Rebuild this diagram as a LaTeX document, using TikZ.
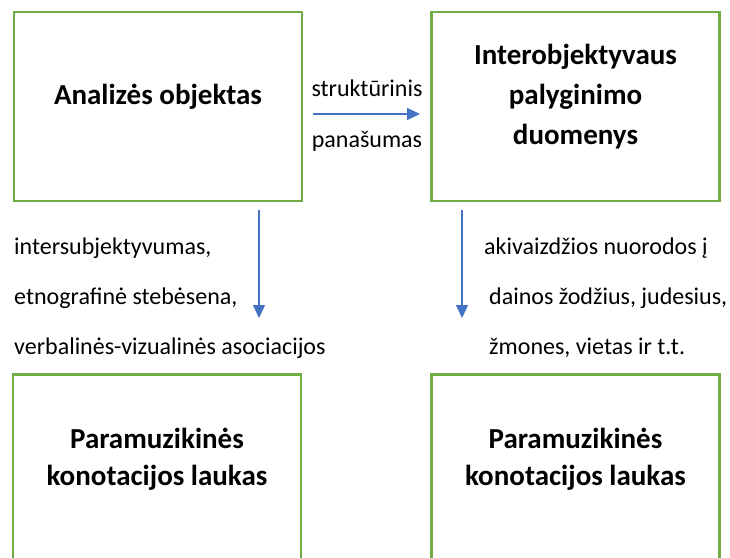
\documentclass[tikz,border=0pt]{standalone}
\usepackage{fontspec}
\setmainfont{Carlito}
\usetikzlibrary{arrows.meta}
\definecolor{boxgreen}{HTML}{70AD47}
\definecolor{arrowblue}{HTML}{4472C4}
\tikzset{greenbox/.style={draw=boxgreen, line width=2.5pt, minimum width=288pt, inner sep=0pt},
         flow/.style={draw=arrowblue, line width=1.2pt, -{Triangle[length=13pt,width=12pt]}},
         title/.style={font=\fontsize{29}{40}\selectfont\bfseries, align=center},
         note/.style={font=\fontsize{24}{28}\selectfont, inner sep=0pt}}

\begin{document}
\begin{tikzpicture}[x=1pt,y=-1pt]
\useasboundingbox (0,0) rectangle (730,557);
\clip (0,0) rectangle (730,557);

% Top row
\node[greenbox, minimum height=189pt] (objektas) at (158,106.5) {};
\node[greenbox, minimum height=189pt] (duomenys) at (575.5,106.5) {};
\node[title] (objektasT) at (158,97) {Analizės objektas};
\node[title] (duomenysT) at (575.5,97) {Interobjektyvaus\\palyginimo\\duomenys};

% Bottom row (cut by the page edge)
\node[greenbox, minimum height=200pt, anchor=north] (laukasL) at (157,373) {};
\node[greenbox, minimum height=200pt, anchor=north] (laukasR) at (575.5,373) {};
\node[title] (laukasLT) at (157,459.5) {Paramuzikinės\\[-3pt]konotacijos laukas};
\node[title] (laukasRT) at (575.5,459.5) {Paramuzikinės\\[-3pt]konotacijos laukas};

% Free ends of the arrows
\coordinate (hStart) at (313,114);
\coordinate (hEnd)   at (420,114);
\coordinate (lStart) at (259,210);
\coordinate (lEnd)   at (259,318);
\coordinate (rStart) at (462,210);
\coordinate (rEnd)   at (462,318);

\draw[flow] (hStart) -- (hEnd);
\draw[flow] (lStart) -- (lEnd);
\draw[flow] (rStart) -- (rEnd);

% Arrow labels
\node[note] (strukt) at (367,88)  {struktūrinis};
\node[note] (panas)  at (367,141) {panašumas};

\node[note, anchor=west] (inter)  at (14,248) {intersubjektyvumas,};
\node[note, anchor=west] (etno)   at (14,298) {etnografinė stebėsena,};
\node[note, anchor=west] (verb)   at (14,348) {verbalinės-vizualinės asociacijos};

\node[note, anchor=west] (akiv)   at (484,248) {akivaizdžios nuorodos į};
\node[note, anchor=west] (dainos) at (489,298) {dainos žodžius, judesius,};
\node[note, anchor=west] (zmones) at (489,348) {žmones, vietas ir t.t.};

\end{tikzpicture}
\end{document}
